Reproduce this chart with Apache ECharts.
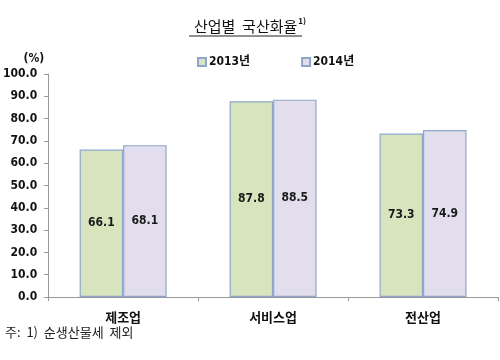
<!DOCTYPE html>
<html><head><meta charset="utf-8">
<script src="https://cdn.jsdelivr.net/npm/echarts@6/dist/echarts.min.js"></script>
<style>html,body{margin:0;padding:0;background:#fff}#c{width:500px;height:360px}</style>
</head><body><div id="c"></div>
<script>
const categories = ['제조업', '서비스업', '전산업'];
const seriesNames = ['2013년', '2014년'];
const values2013 = [66.1, 87.8, 73.3];
const values2014 = [68.1, 88.5, 74.9];
const yTicks = [0, 10, 20, 30, 40, 50, 60, 70, 80, 90, 100];

const chart = echarts.init(document.getElementById('c'));
const narrow = '"DejaVu Sans Condensed", "Liberation Sans Narrow", "Noto Sans CJK KR", sans-serif';
const kr = '"Noto Sans CJK KR", sans-serif';
const fills = ['#d7e4bd', '#e2deee'];
const border = '#8fa6cb';
const mk = (name, data, i) => ({
  name, type: 'bar', data, barWidth: '29%', barGap: '0%',
  itemStyle: { color: fills[i], borderColor: border, borderWidth: 1.2 },
  label: { show: true, position: 'inside', fontFamily: narrow, fontWeight: 'bold', fontSize: 12, color: '#1a1a1a',
    formatter: p => p.value.toFixed(1) }
});
chart.setOption({
  animation: false,
  title: {
    text: '{a|산업별  국산화율}{b|1)}', left: 189, top: 12,
    textStyle: { rich: {
      a: { fontFamily: kr, fontSize: 15, fontWeight: 'normal', color: '#111' },
      b: { fontFamily: kr, fontSize: 8, color: '#111', verticalAlign: 'top', padding: [0, 0, 10, 1] }
    } }
  },
  legend: {
    top: 51, left: 192, itemWidth: 8, itemHeight: 8, itemGap: 51,
    icon: 'rect',
    textStyle: { fontFamily: narrow, fontWeight: 'bold', fontSize: 12, color: '#111', padding: [0, 0, 0, -2] },
    data: seriesNames
  },
  grid: { left: 48, right: 2, top: 74, bottom: 63 },
  xAxis: {
    type: 'category', data: categories,
    axisLine: { lineStyle: { color: '#999' } },
    axisTick: { show: true, length: 4, lineStyle: { color: '#999' } },
    axisLabel: { margin: 14, fontFamily: kr, fontWeight: 'bold', fontSize: 13, color: '#111' }
  },
  yAxis: {
    type: 'value', min: 0, max: 100, interval: 10,
    name: '(%)', nameLocation: 'end', nameGap: 9,
    nameTextStyle: { fontFamily: narrow, fontWeight: 'bold', fontSize: 12, color: '#111', align: 'right', padding: [0, 4, 0, 0] },
    axisLine: { show: true, lineStyle: { color: '#999' } },
    axisTick: { show: true, length: 4, lineStyle: { color: '#999' } },
    splitLine: { show: false },
    axisLabel: { margin: 11, fontFamily: narrow, fontWeight: 'bold', fontSize: 12, color: '#111',
      customValues: yTicks, formatter: v => v.toFixed(1) }
  },
  graphic: [
    { type: 'line', shape: { x1: 189, y1: 36, x2: 302, y2: 36 }, style: { stroke: '#222', lineWidth: 1 } },
    { type: 'text', left: 5, top: 326, style: { text: '주:  1)  순생산물세  제외', font: '13px "Noto Sans CJK KR", sans-serif', fill: '#222' } }
  ],
  series: [mk(seriesNames[0], values2013, 0), mk(seriesNames[1], values2014, 1)]
});
</script></body></html>
